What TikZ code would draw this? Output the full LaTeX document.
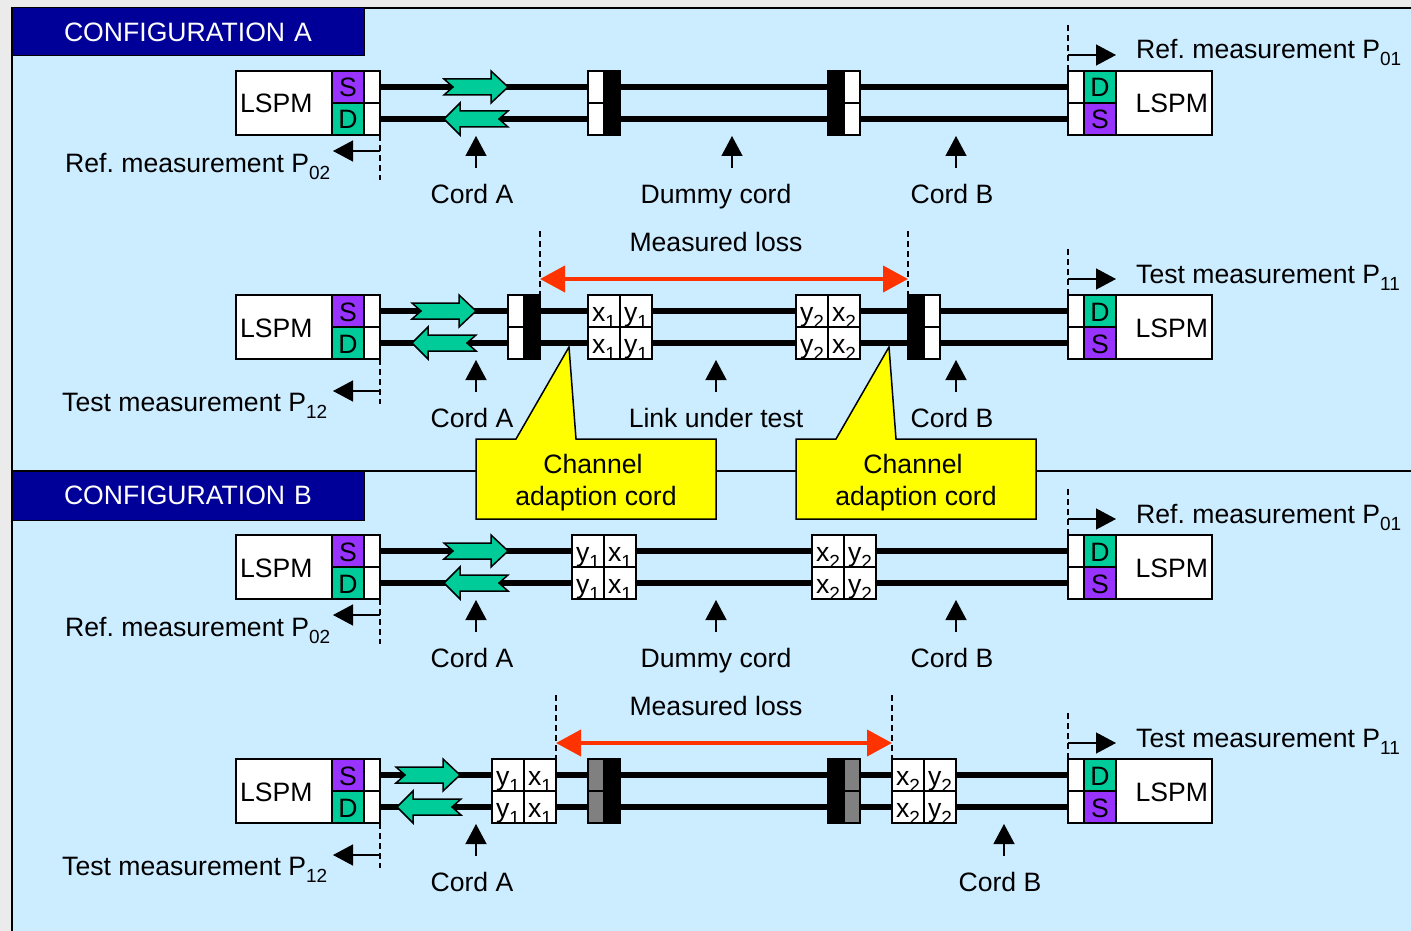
\documentclass[tikz,border=0pt]{standalone}
\usepackage{fontspec}
\setmainfont{Liberation Sans}
\usetikzlibrary{arrows.meta}
\definecolor{pagegray}{RGB}{235,235,235}
\definecolor{panelblue}{RGB}{204,236,255}
\definecolor{bannerblue}{RGB}{0,0,153}
\definecolor{portgreen}{RGB}{0,204,153}
\definecolor{portpurple}{RGB}{153,51,255}
\definecolor{lossred}{RGB}{255,51,0}
\definecolor{celldark}{RGB}{128,128,128}
\definecolor{noteyellow}{RGB}{255,255,0}
\newcommand{\labfont}{\fontsize{26.6}{32}\selectfont}
\newcommand{\lowsub}[1]{\raisebox{-7pt}{\fontsize{19}{19}\selectfont #1}}
\newcommand{\twocells}[5]{%
  \node[#2] (#1t) at (#3,#4) {#5};
  \node[#2] (#1b) at (#3,#4+32) {#5};}
\newcommand{\fibers}[2]{%
  \draw[fiber] (#1t) -- (#2t);
  \draw[fiber] (#1b) -- (#2b);}
\tikzset{
  cellbox/.style={rectangle, draw=black, line width=1.5pt, inner sep=0pt, outer sep=0pt,
    minimum width=32pt, minimum height=32pt, fill=white,
    text height=20pt, text depth=0pt},
  port/.style={cellbox, minimum width=32pt},
  portS/.style={port, fill=portpurple},
  portD/.style={port, fill=portgreen},
  ferr/.style={cellbox, minimum width=16pt},
  ferrK/.style={ferr, fill=black},
  ferrG/.style={ferr, fill=celldark},
  xycell/.style={cellbox},
  lspmL/.style={rectangle, draw=black, line width=1.5pt, fill=white, outer sep=0pt,
    minimum height=64pt, inner xsep=4pt, inner ysep=0pt,
    text width=88pt, align=left, text height=20pt, text depth=0pt},
  lspmR/.style={lspmL, align=right},
  banner/.style={rectangle, draw=black, line width=1pt, fill=bannerblue, outer sep=0pt,
    text=white, anchor=north west, inner xsep=52pt, inner ysep=0pt,
    text width=248pt, align=left},
  lab/.style={inner sep=0pt, anchor=base},
  labW/.style={inner sep=0pt, anchor=base west},
  fiber/.style={line width=6pt, draw=black},
  blackarr/.style={-{Triangle[length=20pt,width=21pt]}, line width=1.3pt, draw=black},
  dashline/.style={line width=1.5pt, draw=black, dash pattern=on 6pt off 4pt},
  lossarr/.style={{Triangle[length=25pt,width=26pt]}-{Triangle[length=25pt,width=26pt]},
    line width=4pt, draw=lossred},
  callout/.style={draw=black, line width=1.5pt, fill=noteyellow},
  calltxt/.style={inner sep=0pt, align=center},
  fwdarr/.pic={
    \draw[line width=1.5pt, draw=black, fill=portgreen] (-64,-8) -- (-17,-8) -- (-17,-16)
      -- (0,0) -- (-17,16) -- (-17,8) -- (-64,8) -- (-55,0) -- cycle;},
  backarr/.pic={
    \draw[line width=1.5pt, draw=black, fill=portgreen] (0,0) -- (16,-16) -- (16,-8)
      -- (64,-8) -- (55,0) -- (64,8) -- (16,8) -- (16,16) -- cycle;},
}
\begin{document}
\begin{tikzpicture}[x=1pt, y=-1pt, every node/.style={font=\labfont}]
  \useasboundingbox (0,0) rectangle (1411,931);
  \fill[pagegray] (0,0) rectangle (1411,931);
  \draw[line width=1.5pt, fill=panelblue] (1420,940) -- (12,940) -- (12,8) -- (1420,8);

  % divider and banners
  \coordinate (divl) at (12,471);
  \coordinate (divr) at (1411,471);
  \draw[line width=1.3pt] (divl) -- (divr);
  \node[banner, minimum height=48pt] (cfga) at (12,8) {CONFIGURATION A};
  \node[banner, minimum height=49pt] (cfgb) at (12,471) {CONFIGURATION B};

  % meters at both ends of each row
  \foreach \r/\y/\m in {a/87/151, b/311/391, c/551/615, d/775/855} {
    \node[lspmL] (lspml\r) at (284,\y+16) {LSPM};
    \node[portS] (sl\r) at (348,\y) {S};
    \node[portD] (dl\r) at (348,\y+32) {D};
    \twocells{fl\r}{ferr}{372}{\y}{}
    \node[lspmR] (lspmr\r) at (1164,\y+16) {LSPM};
    \node[portD] (dr\r) at (1100,\y) {D};
    \node[portS] (sr\r) at (1100,\y+32) {S};
    \twocells{fr\r}{ferr}{1076}{\y}{}

    \coordinate (ld\r) at (380,\y+93);
    \coordinate (lm\r) at (380,\m);
    \coordinate (lt\r) at (333,\m);
    \draw[dashline] (fl\r b.south east) -- (ld\r);
    \draw[blackarr] (lm\r) -- (lt\r);
    \coordinate (rd\r) at (1068,\y-64);
    \coordinate (rm\r) at (1068,\y-32);
    \coordinate (rt\r) at (1116,\y-32);
    \draw[dashline] (fr\r t.north west) -- (rd\r);
    \draw[blackarr] (rm\r) -- (rt\r);
  }

  % row a
  \twocells{wa}{ferr}{596}{87}{}
  \twocells{ka}{ferrK}{612}{87}{}
  \twocells{kb}{ferrK}{836}{87}{}
  \twocells{wb}{ferr}{852}{87}{}
  \fibers{fla}{wa}
  \fibers{ka}{kb}
  \fibers{wb}{fra}
  \pic at (508,87) {fwdarr};
  \pic at (444,119) {backarr};

  % row b
  \twocells{wc}{ferr}{516}{311}{}
  \twocells{kc}{ferrK}{532}{311}{}
  \twocells{xa}{xycell}{604}{311}{x\lowsub{1}}
  \twocells{ya}{xycell}{636}{311}{y\lowsub{1}}
  \twocells{yb}{xycell}{812}{311}{y\lowsub{2}}
  \twocells{xb}{xycell}{844}{311}{x\lowsub{2}}
  \twocells{kd}{ferrK}{916}{311}{}
  \twocells{wd}{ferr}{932}{311}{}
  \fibers{flb}{wc}
  \fibers{kc}{xa}
  \fibers{ya}{yb}
  \fibers{xb}{kd}
  \fibers{wd}{frb}
  \pic at (476,311) {fwdarr};
  \pic at (412,343) {backarr};

  % row c
  \twocells{yc}{xycell}{588}{551}{y\lowsub{1}}
  \twocells{xc}{xycell}{620}{551}{x\lowsub{1}}
  \twocells{xd}{xycell}{828}{551}{x\lowsub{2}}
  \twocells{yd}{xycell}{860}{551}{y\lowsub{2}}
  \fibers{flc}{yc}
  \fibers{xc}{xd}
  \fibers{yd}{frc}
  \pic at (508,551) {fwdarr};
  \pic at (444,583) {backarr};

  % row d
  \twocells{ye}{xycell}{508}{775}{y\lowsub{1}}
  \twocells{xe}{xycell}{540}{775}{x\lowsub{1}}
  \twocells{ga}{ferrG}{596}{775}{}
  \twocells{ke}{ferrK}{612}{775}{}
  \twocells{kf}{ferrK}{836}{775}{}
  \twocells{gb}{ferrG}{852}{775}{}
  \twocells{xf}{xycell}{908}{775}{x\lowsub{2}}
  \twocells{yf}{xycell}{940}{775}{y\lowsub{2}}
  \fibers{fld}{ye}
  \fibers{xe}{ga}
  \fibers{ke}{kf}
  \fibers{gb}{xf}
  \fibers{yf}{frd}
  \pic at (460,775) {fwdarr};
  \pic at (397,807) {backarr};

  % up arrows and cord labels
  \foreach \n/\x/\y/\lx/\txt in {
      aa/476/136/472/Cord A, ab/732/136/716/Dummy cord, ac/956/136/952/Cord B,
      ba/476/360/472/Cord A, bb/716/360/716/Link under test, bc/956/360/952/Cord B,
      ca/476/600/472/Cord A, cb/716/600/716/Dummy cord, cc/956/600/952/Cord B,
      da/476/824/472/Cord A, dc/1004/824/1000/Cord B} {
    \node[lab] (lab\n) at (\lx,\y+67) {\txt};
    \coordinate (ut\n) at (\x,\y);
    \coordinate (ub\n) at (\x,\y+32);
    \draw[blackarr] (ub\n) -- (ut\n);
  }

  % measurement labels
  \node[labW] (pa) at (65,172) {Ref.\ measurement P\lowsub{02}};
  \node[labW] (pb) at (1136,59) {Ref.\ measurement P\lowsub{01}};
  \node[labW] (pc) at (62,411) {Test measurement P\lowsub{12}};
  \node[labW] (pd) at (1136,283) {Test measurement P\lowsub{11}};
  \node[labW] (pe) at (65,636) {Ref.\ measurement P\lowsub{02}};
  \node[labW] (pf) at (1136,523) {Ref.\ measurement P\lowsub{01}};
  \node[labW] (pg) at (62,875) {Test measurement P\lowsub{12}};
  \node[labW] (ph) at (1136,747) {Test measurement P\lowsub{11}};

  % measured loss
  \node[lab] (lossa) at (716,251) {Measured loss};
  \coordinate (lda) at (540,231);
  \coordinate (ldb) at (908,231);
  \coordinate (lma) at (540,279);
  \coordinate (lmb) at (908,279);
  \draw[dashline] (lda) -- (kct.north east);
  \draw[dashline] (ldb) -- (kdt.north west);
  \draw[lossarr] (lma) -- (lmb);

  \node[lab] (lossb) at (716,715) {Measured loss};
  \coordinate (ldc) at (556,695);
  \coordinate (ldd) at (892,695);
  \coordinate (lmc) at (556,743);
  \coordinate (lmd) at (892,743);
  \draw[dashline] (ldc) -- (xet.north east);
  \draw[dashline] (ldd) -- (xft.north west);
  \draw[lossarr] (lmc) -- (lmd);

  % callouts
  \draw[callout] (476,439) -- (516,439) -- (569,347) -- (576,439) -- (716,439)
    -- (716,519) -- (476,519) -- cycle;
  \draw[callout] (796,439) -- (836,439) -- (889,347) -- (896,439) -- (1036,439)
    -- (1036,519) -- (796,519) -- cycle;
  \node[calltxt] (cha) at (596,483) {Channel\hbox to 6pt{}\\adaption cord};
  \node[calltxt] (chb) at (916,483) {Channel\hbox to 6pt{}\\adaption cord};
\end{tikzpicture}
\end{document}
